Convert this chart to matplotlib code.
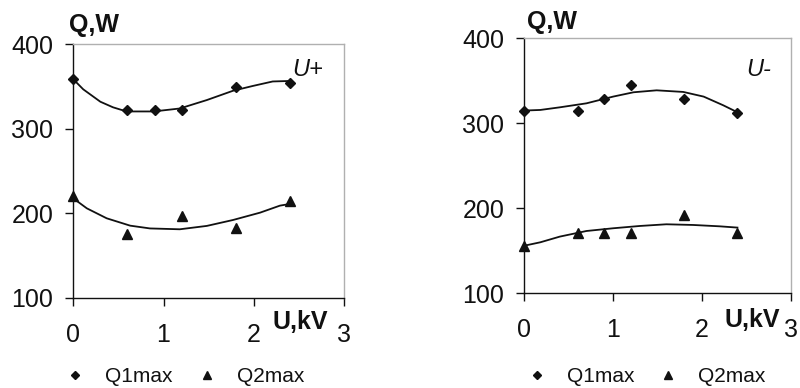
import matplotlib
matplotlib.use("Agg")
import matplotlib.pyplot as plt
from matplotlib.lines import Line2D

plt.rcParams['font.family'] = ['Liberation Sans', 'DejaVu Sans']

# ---- data: U+ (left) ----
u_plus = [0, 0.6, 0.9, 1.2, 1.8, 2.4]
q1_plus = [359, 322, 322, 322, 349, 354]
u2_plus = [0, 0.6, 1.2, 1.8, 2.4]
q2_plus = [220, 175, 197, 182, 214]
# trend line points
t1_plus_x = [0, 0.11, 0.3, 0.44, 0.59, 0.89, 1.18, 1.48, 1.77, 1.99, 2.21, 2.4]
t1_plus_y = [358.6, 346.7, 332, 325.4, 320.5, 320.5, 324, 334, 345, 350.7, 356, 356.6]
t2_plus_x = [0, 0.15, 0.37, 0.63, 0.85, 1.18, 1.48, 1.77, 2.07, 2.29, 2.4]
t2_plus_y = [217.6, 205.8, 194, 185.3, 182, 181, 185, 192, 200.7, 209, 211]

# ---- data: U- (right) ----
u_minus = [0, 0.6, 0.9, 1.2, 1.8, 2.4]
q1_minus = [315, 315, 329, 345, 329, 312]
q2_minus = [156, 171, 171, 171, 192, 171]
t1_minus_x = [0, 0.18, 0.4, 0.7, 1.0, 1.23, 1.49, 1.79, 2.02, 2.24, 2.4]
t1_minus_y = [315, 315.7, 318.8, 323.5, 331.4, 336.5, 338.8, 336.9, 331.4, 321.2, 313]
t2_minus_x = [0, 0.18, 0.4, 0.7, 1.0, 1.3, 1.6, 1.9, 2.2, 2.4]
t2_minus_y = [156, 160, 166.7, 173.3, 176.5, 179.2, 181.2, 180.4, 178.8, 177.3]

x_ticks = [0, 1, 2, 3]
y_ticks = [100, 200, 300, 400]
legend_labels = ['Q1max', 'Q2max']

W, H = 800, 388
INK = '#111111'
fig = plt.figure(figsize=(8, 3.88), dpi=100)


def px_rect(l, r, t, b):
    return [l / W, 1 - b / H, (r - l) / W, (b - t) / H]


def setup(ax):
    ax.set_xlim(0, 3)
    ax.set_ylim(100, 400)
    ax.set_xticks(x_ticks)
    ax.set_yticks(y_ticks)
    for s in ['top', 'right']:
        ax.spines[s].set_color('#b0b0b0')
        ax.spines[s].set_linewidth(1.0)
    for s in ['left', 'bottom']:
        ax.spines[s].set_color(INK)
        ax.spines[s].set_linewidth(1.0)
    ax.tick_params(axis='both', direction='out', length=6, width=1.0,
                   labelsize=18, colors=INK)
    ax.tick_params(axis='y', pad=8.5)
    ax.tick_params(axis='x', pad=12)


ax1 = fig.add_axes(px_rect(73.3, 344, 44.3, 297.7))
setup(ax1)
ax1.plot(t1_plus_x, t1_plus_y, color=INK, lw=1.3, clip_on=False)
ax1.plot(t2_plus_x, t2_plus_y, color=INK, lw=1.3, clip_on=False)
ax1.plot(u_plus, q1_plus, 'D', color=INK, ms=5, clip_on=False, zorder=5)
ax1.plot(u2_plus, q2_plus, '^', color=INK, ms=7, clip_on=False, zorder=5)

ax2 = fig.add_axes(px_rect(524.3, 790.7, 38.3, 293.3))
setup(ax2)
ax2.plot(t1_minus_x, t1_minus_y, color=INK, lw=1.3, clip_on=False)
ax2.plot(t2_minus_x, t2_minus_y, color=INK, lw=1.3, clip_on=False)
ax2.plot(u_minus, q1_minus, 'D', color=INK, ms=5, clip_on=False, zorder=5)
ax2.plot(u_minus, q2_minus, '^', color=INK, ms=7, clip_on=False, zorder=5)


def ftext(x, y, s, **kw):
    fig.text(x / W, 1 - y / H, s, **kw)


ftext(69, 25, 'Q,W', fontsize=18, fontweight='bold', va='center', ha='left', color=INK)
ftext(272, 322, 'U,kV', fontsize=18, fontweight='bold', va='center', ha='left', color=INK)
ftext(292, 70, 'U+', fontsize=17, fontstyle='italic', va='center', ha='left', color=INK)

ftext(527, 22, 'Q,W', fontsize=18, fontweight='bold', va='center', ha='left', color=INK)
ftext(724, 320, 'U,kV', fontsize=18, fontweight='bold', va='center', ha='left', color=INK)
ftext(746, 70, 'U-', fontsize=17, fontstyle='italic', va='center', ha='left', color=INK)

# legends (one entry each, placed under each chart)
h1 = Line2D([], [], marker='D', ls='none', color=INK, ms=3.6)
h2 = Line2D([], [], marker='^', ls='none', color=INK, ms=5.5)
fs = 15
em = fs * 100 / 72.0
for xc, h, lab in [(75, h1, legend_labels[0]), (207, h2, legend_labels[1]),
                   (537, h1, legend_labels[0]), (668, h2, legend_labels[1])]:
    fig.legend([h], [lab], loc='center left',
               bbox_to_anchor=((xc - em / 2) / W, 1 - 377 / H), frameon=False,
               fontsize=fs, handlelength=1.0, handletextpad=0.94,
               borderpad=0, borderaxespad=0, labelcolor=INK)

fig.savefig('out.png', dpi=100)
